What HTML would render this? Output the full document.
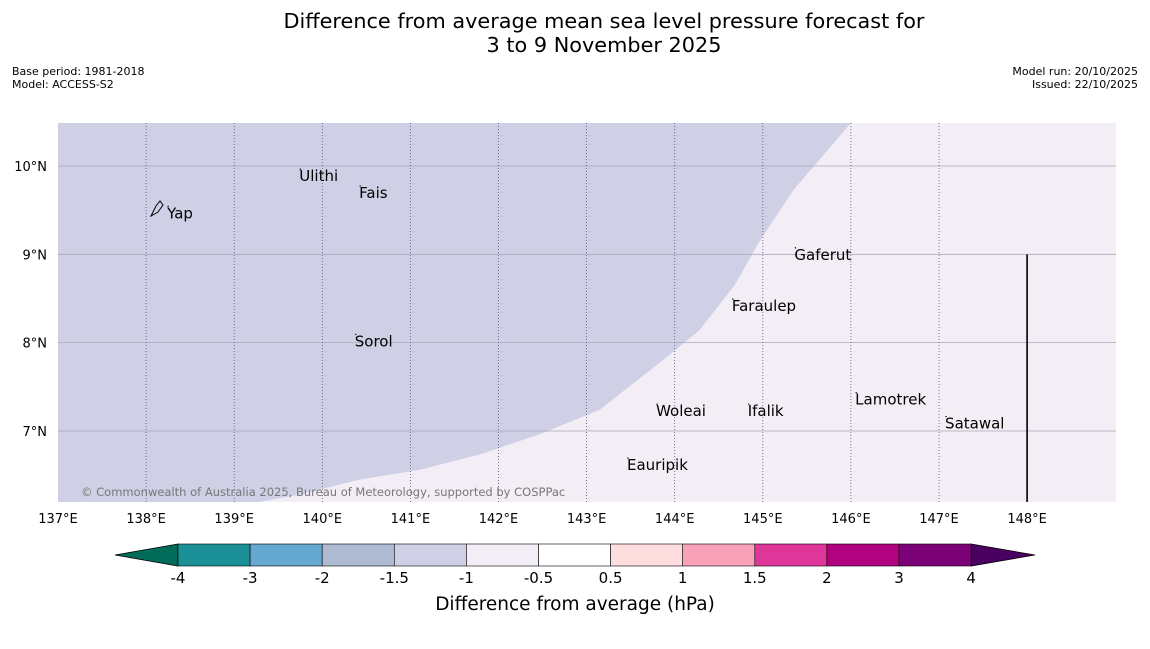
<!DOCTYPE html>
<html><head><meta charset="utf-8"><style>
body{margin:0;background:#fff;font-family:"Liberation Sans","DejaVu Sans",sans-serif;}
svg text{font-family:"DejaVu Sans","Liberation Sans",sans-serif;}
</style></head><body>
<svg width="1150" height="644" viewBox="0 0 1150 644" xmlns="http://www.w3.org/2000/svg">
<text x="604" y="28" font-size="20.8" text-anchor="middle">Difference from average mean sea level pressure forecast for</text>
<text x="604" y="52" font-size="20.8" text-anchor="middle">3 to 9 November 2025</text>
<text x="12" y="75" font-size="11">Base period: 1981-2018</text>
<text x="12" y="88" font-size="11">Model: ACCESS-S2</text>
<text x="1138" y="75" font-size="11" text-anchor="end">Model run: 20/10/2025</text>
<text x="1138" y="88" font-size="11" text-anchor="end">Issued: 22/10/2025</text>
<g id="map"></g>
<g id="cbar"></g>
<text x="575" y="610" font-size="18.5" text-anchor="middle">Difference from average (hPa)</text>
</svg>
<script>
const lonTicks=[137,138,139,140,141,142,143,144,145,146,147,148];
const latTicks=[7,8,9,10];
const boundaryLon=[146.0,145.35,144.97,144.68,144.28,143.94,143.15,142.46,141.78,141.1,140.42,139.74,139.28];
const boundaryLat=[10.487,9.73,9.16,8.65,8.14,7.86,7.24,6.96,6.73,6.56,6.45,6.28,6.196];
const places=["Ulithi","Fais","Yap","Gaferut","Faraulep","Sorol","Woleai","Ifalik","Lamotrek","Satawal","Eauripik"];
const placeLon=[139.75,140.43,138.25,145.37,144.66,140.38,143.8,144.84,146.06,147.08,143.47];
const placeLat=[9.85,9.66,9.43,8.96,8.38,7.98,7.19,7.19,7.32,7.05,6.58];
const cbLevels=["-4","-3","-2","-1.5","-1","-0.5","0.5","1","1.5","2","3","4"];
const cbColors=["#1a9096","#66a9d0","#aebbd3","#cfd0e5","#f3edf5","#ffffff","#fddddd","#f9a1b8","#de3799","#b1037f","#7b0277"];
const X0=58,X1=1116,Y0=123,Y1=502;
const x=l=>58+(l-137)*88.1, y=l=>166+(10-l)*88.33;
const NS="http://www.w3.org/2000/svg";
function mk(p,t,a){const e=document.createElementNS(NS,t);for(const k in a)e.setAttribute(k,a[k]);p.appendChild(e);return e;}
const m=document.getElementById('map');
let r=mk(m,'rect',{x:X0,y:Y0,width:X1-X0,height:Y1-Y0,fill:'#f3edf5'});


let pts=X0+','+Y0+' ';
boundaryLon.forEach((l,i)=>pts+=x(l).toFixed(1)+','+y(boundaryLat[i]).toFixed(1)+' ');
pts+=X0+','+Y1;
let pg=mk(m,'polygon',{points:pts,fill:'#cfd0e5'});


latTicks.forEach(l=>{
 let g=mk(m,'line',{x1:X0,x2:X1,y1:y(l),y2:y(l),stroke:'#a9a9bd','stroke-width':0.8});
 
 
 let t=mk(m,'text',{x:47,y:y(l)+5,'font-size':13,'text-anchor':'end'});t.textContent=l+'°N';
 
 
});
lonTicks.forEach(l=>{
 if(l>137&&l<148){let g=mk(m,'line',{x1:x(l),x2:x(l),y1:Y0,y2:Y1,stroke:'#555577','stroke-width':0.8,'stroke-dasharray':'1,2'});
 
 }
 let t=mk(m,'text',{x:x(l),y:523,'font-size':13,'text-anchor':'middle'});t.textContent=l+'°E';
 
 
});
let vl=mk(m,'line',{x1:x(148),x2:x(148),y1:y(9),y2:Y1,stroke:'#000','stroke-width':1.6});


places.forEach((p,i)=>{
 let t=mk(m,'text',{x:x(placeLon[i])-1,y:y(placeLat[i])+2,'font-size':15});t.textContent=p;
 
 
 let d=mk(m,'circle',{cx:x(placeLon[i]),cy:y(placeLat[i])-10,r:0.7,fill:'#000'});
 
 
});
let yap=mk(m,'path',{d:'M151,216 L156,206 L160,201 L163,205 L158,212 Z',fill:'none',stroke:'#000','stroke-width':1});


let cp=mk(m,'text',{x:81,y:496,'font-size':11.5,fill:'#777'});cp.textContent='© Commonwealth of Australia 2025, Bureau of Meteorology, supported by COSPPac';


const c=document.getElementById('cbar');
const CX0=178,CW=72.1,CY0=544,CY1=566;
let tl=mk(c,'polygon',{points:`${CX0},${CY0} 115,555 ${CX0},${CY1}`,fill:'#016b5a',stroke:'#000','stroke-width':0.8});


let xe=CX0+CW*cbColors.length;
let tr=mk(c,'polygon',{points:`${xe},${CY0} 1035,555 ${xe},${CY1}`,fill:'#4a0060',stroke:'#000','stroke-width':0.8});


cbColors.forEach((col,i)=>{
 let s=mk(c,'rect',{x:CX0+i*CW,y:CY0,width:CW,height:CY1-CY0,fill:col,stroke:'#000','stroke-width':0.6});
 
 
});
cbLevels.forEach((lv,i)=>{
 let t=mk(c,'text',{x:CX0+i*CW,y:583,'font-size':15,'text-anchor':'middle'});t.textContent=lv;
 
 
});
</script>
</body></html>
